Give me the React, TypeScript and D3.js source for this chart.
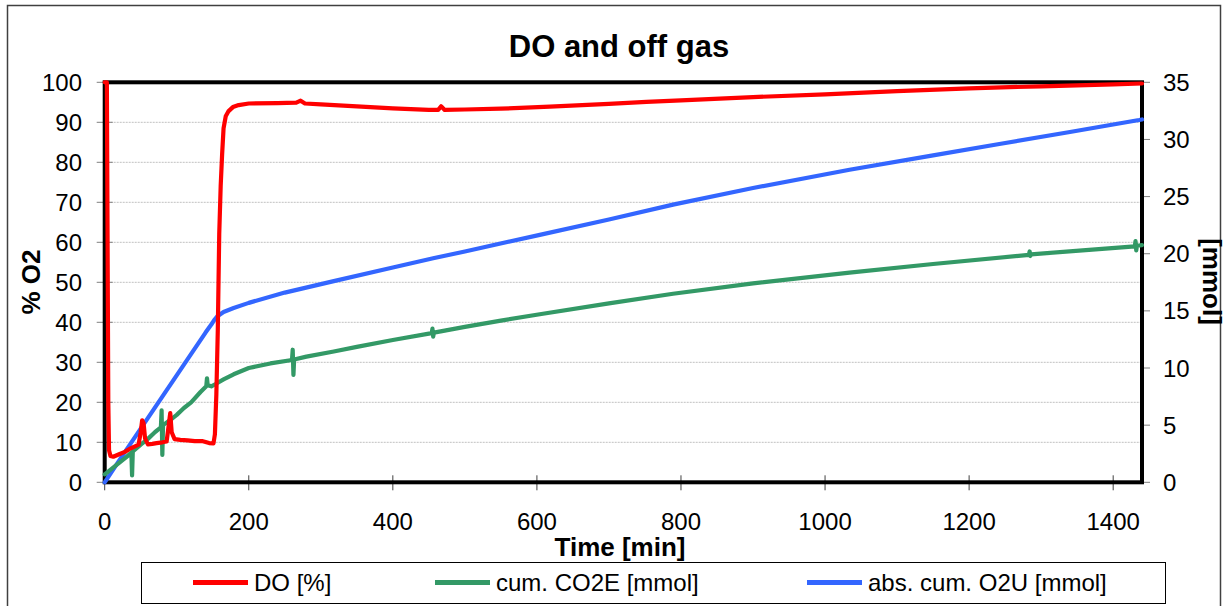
import React, { useRef, useEffect } from "react";
import * as d3 from "d3";

// time [min], DO [%]
const doData: [number, number][] = [
  [0, 100], [3, 100], [4, 60], [5, 20], [6, 8], [8, 6.6], [12, 6.4], [20, 7.0],
  [28, 7.6], [36, 8.5], [42, 9.0], [47, 9.4], [50, 12.5], [52, 15.5], [54, 14.8],
  [56, 11.0], [60, 9.5], [66, 9.6], [72, 9.8], [80, 10.0], [86, 10.2], [89, 14.5],
  [91, 17.3], [93, 12.5], [97, 10.8], [105, 10.6], [115, 10.5], [125, 10.3],
  [135, 10.3], [145, 9.8], [151, 9.7], [153, 12], [155, 22], [157, 38], [159, 62],
  [161, 74], [163, 82], [165, 88.5], [168, 91.5], [172, 92.8], [178, 93.8],
  [186, 94.3], [200, 94.7], [240, 94.8], [266, 94.9], [272, 95.4], [278, 94.7],
  [300, 94.5], [350, 94.0], [400, 93.5], [450, 93.1], [463, 93.1], [467, 94.0],
  [472, 93.1], [500, 93.2], [550, 93.4], [618, 93.9], [700, 94.6], [752, 95.1],
  [800, 95.5], [900, 96.3], [1000, 97.0], [1100, 97.8], [1200, 98.5], [1300, 99.0],
  [1400, 99.5], [1440, 99.7],
];

// time [min], cumulative CO2 evolution [mmol]
const co2eData: [number, number][] = [
  [0, 0.7], [10, 1.2], [20, 1.7], [30, 2.2], [37, 2.6], [38, 0.6], [39, 2.7],
  [50, 3.3], [60, 3.8], [70, 4.4], [78, 4.8], [79, 6.3], [80, 2.4], [81, 5.0],
  [90, 5.4], [100, 5.9], [110, 6.5], [120, 7.0], [133, 7.9], [141, 8.4], [142, 9.1],
  [143, 8.5], [148, 8.4], [154, 8.6], [165, 9.0], [179, 9.45], [200, 10.0],
  [230, 10.4], [260, 10.7], [261, 11.6], [262, 9.4], [263, 10.75], [280, 11.0],
  [318, 11.45], [350, 11.85], [400, 12.45], [454, 13.05], [455, 13.45], [456, 12.75],
  [457, 13.1], [500, 13.6], [550, 14.15], [604, 14.7], [700, 15.65], [789, 16.5],
  [900, 17.4], [1034, 18.35], [1150, 19.1], [1283, 19.9], [1284, 20.2], [1285, 19.8],
  [1286, 19.95], [1380, 20.4], [1430, 20.65], [1431, 21.1], [1432, 20.3],
  [1433, 20.7], [1440, 20.75],
];

// time [min], absolute cumulative O2 uptake [mmol]
const o2uData: [number, number][] = [
  [0, 0], [20, 1.9], [50, 4.7], [80, 7.5], [110, 10.3], [140, 13.1], [148, 13.8],
  [152, 14.2], [156, 14.5], [165, 14.9], [179, 15.25], [200, 15.7], [250, 16.6],
  [318, 17.6], [400, 18.8], [456, 19.6], [500, 20.2], [604, 21.65], [700, 23.0],
  [789, 24.3], [900, 25.75], [1034, 27.35], [1150, 28.6], [1242, 29.6], [1340, 30.65],
  [1436, 31.7], [1440, 31.75],
];

const xTicks = [0, 200, 400, 600, 800, 1000, 1200, 1400];
const leftTicks = [0, 10, 20, 30, 40, 50, 60, 70, 80, 90, 100];
const rightTicks = [0, 5, 10, 15, 20, 25, 30, 35];
const seriesNames = ["DO [%]", "cum. CO2E [mmol]", "abs. cum. O2U [mmol]"];
const seriesColors = ["#ff0000", "#339966", "#3366ff"];

function App() {
  const svgRef = useRef<SVGSVGElement>(null);

  useEffect(() => {
    const svg = d3.select(svgRef.current);
    svg.selectAll("*").remove();

    const font = "'Liberation Sans', Arial, sans-serif";
    const left = 104.7;
    const right = 1142;
    const top = 82.3;
    const bottom = 482.3;

    const x = d3.scaleLinear().domain([0, 1440]).range([left, right]);
    const yL = d3.scaleLinear().domain([0, 100]).range([bottom, top]);
    const yR = d3.scaleLinear().domain([0, 35]).range([bottom, top]);

    svg.append("rect").attr("width", 1228).attr("height", 606).attr("fill", "white");

    // outer chart frame
    svg
      .append("rect")
      .attr("x", 7.5)
      .attr("y", 5.5)
      .attr("width", 1213)
      .attr("height", 640)
      .attr("fill", "none")
      .attr("stroke", "#404040")
      .attr("stroke-width", 1.5);

    // title
    svg
      .append("text")
      .attr("x", 619)
      .attr("y", 57)
      .attr("text-anchor", "middle")
      .style("font-family", font)
      .style("font-size", "31px")
      .style("font-weight", "bold")
      .text("DO and off gas");

    // dotted gridlines
    svg
      .selectAll(".grid")
      .data(leftTicks.filter((v) => v > 0 && v < 100))
      .enter()
      .append("line")
      .attr("x1", left)
      .attr("x2", right)
      .attr("y1", (d) => yL(d))
      .attr("y2", (d) => yL(d))
      .attr("stroke", "#c0c0c0")
      .attr("stroke-dasharray", "2,1");

    // tick marks
    svg
      .selectAll(".ltick")
      .data(leftTicks)
      .enter()
      .append("line")
      .attr("x1", left - 8)
      .attr("x2", left + 8)
      .attr("y1", (d) => yL(d))
      .attr("y2", (d) => yL(d))
      .attr("stroke", "#808080");

    svg
      .selectAll(".rtick")
      .data(rightTicks)
      .enter()
      .append("line")
      .attr("x1", right)
      .attr("x2", right + 8)
      .attr("y1", (d) => yR(d))
      .attr("y2", (d) => yR(d))
      .attr("stroke", "#808080");

    svg
      .selectAll(".xtick")
      .data(xTicks)
      .enter()
      .append("line")
      .attr("x1", (d) => x(d))
      .attr("x2", (d) => x(d))
      .attr("y1", bottom - 7)
      .attr("y2", bottom + 8)
      .attr("stroke", "#404040");

    // plot area border (thick)
    svg
      .append("rect")
      .attr("x", left)
      .attr("y", top)
      .attr("width", right - left)
      .attr("height", bottom - top)
      .attr("fill", "none")
      .attr("stroke", "black")
      .attr("stroke-width", 4);

    // series, DO drawn last so it sits on top
    const lineL = d3
      .line<[number, number]>()
      .x((d) => x(d[0]))
      .y((d) => yL(d[1]));
    const lineR = d3
      .line<[number, number]>()
      .x((d) => x(d[0]))
      .y((d) => yR(d[1]));

    const drawSeries = (data: [number, number][], gen: any, color: string) => {
      svg
        .append("path")
        .datum(data)
        .attr("d", gen)
        .attr("fill", "none")
        .attr("stroke", color)
        .attr("stroke-width", 4.2)
        .attr("stroke-linejoin", "round")
        .attr("stroke-linecap", "round");
    };
    drawSeries(o2uData, lineR, seriesColors[2]);
    drawSeries(co2eData, lineR, seriesColors[1]);
    drawSeries(doData, lineL, seriesColors[0]);

    // tick labels
    const label = (tx: number, ty: number, anchor: string, txt: string) =>
      svg
        .append("text")
        .attr("x", tx)
        .attr("y", ty)
        .attr("text-anchor", anchor)
        .style("font-family", font)
        .style("font-size", "24px")
        .attr("fill", "black")
        .text(txt);

    leftTicks.forEach((v) => label(82, yL(v) + 8.5, "end", String(v)));
    rightTicks.forEach((v) => label(1163, yR(v) + 8.5, "start", String(v)));
    xTicks.forEach((v) => label(x(v), 530, "middle", String(v)));

    // axis titles
    svg
      .append("text")
      .attr("transform", "translate(40,282) rotate(-90)")
      .attr("text-anchor", "middle")
      .style("font-family", font)
      .style("font-size", "26px")
      .style("font-weight", "bold")
      .text("% O2");

    svg
      .append("text")
      .attr("transform", "translate(1203,281.5) rotate(90)")
      .attr("text-anchor", "middle")
      .style("font-family", font)
      .style("font-size", "26px")
      .style("font-weight", "bold")
      .text("[mmol]");

    svg
      .append("text")
      .attr("x", 620)
      .attr("y", 556)
      .attr("text-anchor", "middle")
      .style("font-family", font)
      .style("font-size", "26px")
      .style("font-weight", "bold")
      .text("Time [min]");

    // legend
    const legend = svg.append("g");
    legend
      .append("rect")
      .attr("x", 141.5)
      .attr("y", 562.5)
      .attr("width", 1024)
      .attr("height", 41)
      .attr("fill", "white")
      .attr("stroke", "black");

    const legendX = [193, 435, 807];
    seriesNames.forEach((name, i) => {
      legend
        .append("line")
        .attr("x1", legendX[i])
        .attr("x2", legendX[i] + 55)
        .attr("y1", 582.5)
        .attr("y2", 582.5)
        .attr("stroke", seriesColors[i])
        .attr("stroke-width", 5);
      legend
        .append("text")
        .attr("x", legendX[i] + 61)
        .attr("y", 591)
        .style("font-family", font)
        .style("font-size", "24px")
        .text(name);
    });
  }, []);

  return (
    <svg
      ref={svgRef}
      width={1228}
      height={606}
      style={{ position: "absolute", left: 0, top: 0, display: "block" }}
    ></svg>
  );
}

export default App;
